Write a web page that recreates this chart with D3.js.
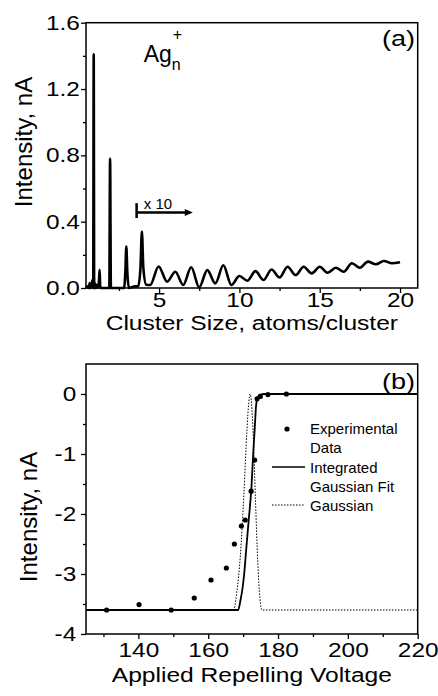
<!DOCTYPE html>
<html>
<head>
<meta charset="utf-8">
<script src="https://cdnjs.cloudflare.com/ajax/libs/d3/7.8.5/d3.min.js"></script>
<style>
  body { margin: 0; background: #fff; }
  svg { display: block; font-family: "Liberation Sans", Arial, sans-serif; }
  .axis line { stroke: #000; stroke-width: 1.3; }
  .axis text { font-size: 20px; fill: #000; }
  .frame { fill: none; stroke: #000; stroke-width: 1.5; }
  .title { font-size: 20px; fill: #000; }
  .ytitle { font-size: 24px; fill: #000; }
</style>
</head>
<body>
<svg id="chart" width="438" height="696"></svg>
<script>
// (a) Ag_n+ cluster spectrum
var clusterSize = [0.45, 0.55, 0.62, 0.68, 0.74, 0.8, 0.86, 0.9, 0.93, 0.96, 1.0, 1.05, 1.1, 1.2, 1.26, 1.3, 1.34, 1.42,
  1.9, 1.95, 2.0, 2.4, 2.82, 2.9, 2.96, 3.02, 3.12, 3.5, 3.7, 3.84, 3.93, 4.02, 4.2, 4.45, 4.97, 5.5, 6.01, 6.5,
  7.0, 7.5, 8.0, 8.5, 9.0, 9.5, 10.0, 10.5, 11.0, 11.5, 12.0, 12.5, 13.0, 13.5, 14.0, 14.5, 15.0, 15.5, 16.0,
  16.5, 17.0, 17.5, 18.0, 18.5, 19.0, 19.5, 20.0];
var clusterCurrent = [0, 0.01, 0, 0.03, 0, 0.02, 0.05, 0, 1.41, 0, 0.03, 0, 0.02, 0, 0.05, 0.11, 0, 0,
  0, 0.78, 0, 0, 0, 0.1, 0.25, 0.1, 0, 0.01, 0.01, 0.12, 0.34, 0.12, 0.02, 0.018, 0.13, 0.038, 0.098, 0.018,
  0.125, 0.004, 0.108, 0.028, 0.137, 0.018, 0.072, 0.044, 0.102, 0.048, 0.112, 0.064, 0.128, 0.078, 0.128, 0.088, 0.128, 0.092, 0.122,
  0.098, 0.149, 0.122, 0.159, 0.143, 0.163, 0.149, 0.155];

// (b) repelling voltage scan
var expVoltage = [130.9, 140.2, 149.4, 156.0, 160.8, 165.2, 167.5, 169.5, 170.6, 172.3, 173.3, 174.0, 174.9, 177.1, 182.4];
var expCurrent = [-3.6, -3.51, -3.6, -3.4, -3.1, -2.9, -2.5, -2.2, -2.1, -1.62, -1.1, -0.08, -0.04, -0.01, 0];
var fitVoltage = [125, 168.6, 169.2, 169.8, 170.3, 170.8, 171.6, 172.4, 172.9, 173.3, 173.7, 174.1, 174.8, 176, 220];
var fitCurrent = [-3.6, -3.6, -3.45, -3.25, -3.0, -2.65, -2.1, -1.54, -0.98, -0.6, -0.2, -0.07, -0.02, 0, 0];
var gaussVoltage = [125, 167.2, 168.2, 169.2, 170.2, 171.1, 171.6, 172.0, 172.4, 172.9, 173.5, 174.2, 174.8, 175.4, 220];
var gaussCurrent = [-3.6, -3.6, -3.3, -2.7, -1.7, -0.6, -0.15, 0, -0.15, -0.7, -1.7, -2.8, -3.4, -3.6, -3.6];

var ticksAx = [5, 10, 15, 20], minorAx = [2.5, 7.5, 12.5, 17.5];
var ticksAy = [0, 0.4, 0.8, 1.2, 1.6], minorAy = [0.2, 0.6, 1.0, 1.4];
var ticksBx = [140, 160, 180, 200, 220], minorBx = [130, 150, 170, 190, 210];
var ticksBy = [-4, -3, -2, -1, 0], minorBy = [-3.5, -2.5, -1.5, -0.5];

var svg = d3.select("#chart"),
    left = 86, right = 417.7,
    stretch = "scale(1.22,1)",   // the figure's lettering is wide
    titleStretch = "scale(1.23,1)";

function zip(xs, ys) {
  return xs.map(function(d, i) { return [d, ys[i]]; });
}

function noDomain(s) { s.select(".domain").remove(); }

function drawAxes(g, x, y, o) {
  var top = y.range()[1], bottom = y.range()[0];

  g.append("g")
      .attr("class", "axis")
      .attr("transform", "translate(0," + bottom + ")")
      .call(d3.axisBottom(x).tickValues(o.tx).tickSize(5).tickPadding(o.padX).tickFormat(o.fx))
      .call(noDomain)
      .selectAll("text").attr("transform", stretch);
  g.append("g")
      .attr("class", "axis")
      .attr("transform", "translate(0," + bottom + ")")
      .call(d3.axisBottom(x).tickValues(o.mx).tickSize(3).tickFormat(""))
      .call(noDomain);

  g.append("g")
      .attr("class", "axis")
      .attr("transform", "translate(" + left + ",0)")
      .call(d3.axisLeft(y).tickValues(o.ty).tickSize(5).tickPadding(o.padY).tickFormat(o.fy))
      .call(noDomain)
      .selectAll("text").attr("transform", stretch);
  g.append("g")
      .attr("class", "axis")
      .attr("transform", "translate(" + left + ",0)")
      .call(d3.axisLeft(y).tickValues(o.my).tickSize(3).tickFormat(""))
      .call(noDomain);

  g.append("rect")
      .attr("class", "frame")
      .attr("x", left)
      .attr("y", top)
      .attr("width", right - left)
      .attr("height", bottom - top);
}

function wideText(g, cls, x, y, anchor, txt) {
  return g.append("text")
      .attr("class", cls)
      .attr("transform", "translate(" + x + "," + y + ") " + titleStretch)
      .attr("text-anchor", anchor)
      .text(txt);
}

// ---------- panel (a) ----------
var xa = d3.scaleLinear().domain([0.45, 21.1]).range([left, right]),
    ya = d3.scaleLinear().domain([0, 1.6]).range([288, 22.7]);

var ga = svg.append("g");

drawAxes(ga, xa, ya, {
  tx: ticksAx, mx: minorAx, ty: ticksAy, my: minorAy,
  padX: 0, padY: 0,
  fx: d3.format("d"), fy: d3.format(".1f")
});

ga.append("path")
    .datum(zip(clusterSize, clusterCurrent))
    .attr("fill", "none")
    .attr("stroke", "#000")
    .attr("stroke-width", 2.6)
    .attr("stroke-linejoin", "round")
    .attr("d", d3.line()
      .x(function(d) { return xa(d[0]); })
      .y(function(d) { return ya(d[1]); })
      .curve(d3.curveMonotoneX));

// x 10 marker
ga.append("line")
    .attr("x1", xa(3.6)).attr("x2", xa(3.6))
    .attr("y1", ya(0.512)).attr("y2", ya(0.422))
    .attr("stroke", "#000").attr("stroke-width", 2.5);
ga.append("line")
    .attr("x1", xa(3.6)).attr("x2", xa(6.75))
    .attr("y1", ya(0.456)).attr("y2", ya(0.456))
    .attr("stroke", "#000").attr("stroke-width", 2.5);
ga.append("path")
    .attr("d", "M" + xa(7.1) + "," + ya(0.456) + "l-8,-3.5v7z")
    .attr("fill", "#000");
ga.append("text")
    .attr("x", xa(4.05))
    .attr("y", ya(0.476))
    .attr("font-size", 15)
    .text("x 10");

var ag = ga.append("text")
    .attr("x", xa(4.04))
    .attr("y", ya(1.363))
    .attr("font-size", 23);
ag.append("tspan").text("Ag");
ag.append("tspan").attr("font-size", 16).attr("dy", 8).text("n");
ag.append("tspan").attr("font-size", 16).attr("x", xa(5.85)).attr("dy", -30).text("+");

wideText(ga, "title", 415, 46, "end", "(a)").style("font-size", "22px");
wideText(ga, "title", (left + right) / 2, 330, "middle", "Cluster Size, atoms/cluster");

ga.append("text")
    .attr("class", "ytitle")
    .attr("transform", "translate(32,142) rotate(-90)")
    .attr("text-anchor", "middle")
    .text("Intensity, nA");

// ---------- panel (b) ----------
var xb = d3.scaleLinear().domain([125, 220]).range([left, right]),
    yb = d3.scaleLinear().domain([-4, 0.5]).range([634, 364]);

var gb = svg.append("g");

drawAxes(gb, xb, yb, {
  tx: ticksBx, mx: minorBx, ty: ticksBy, my: minorBy,
  padX: 4, padY: 3,
  fx: d3.format("d"), fy: function(d) { return String(d); }
});

var lineB = d3.line()
    .x(function(d) { return xb(d[0]); })
    .y(function(d) { return yb(d[1]); })
    .curve(d3.curveMonotoneX);

gb.append("path")
    .datum(zip(gaussVoltage, gaussCurrent))
    .attr("fill", "none")
    .attr("stroke", "#000")
    .attr("stroke-width", 1)
    .attr("stroke-dasharray", "1.5,1.5")
    .attr("d", lineB);

gb.append("path")
    .datum(zip(fitVoltage, fitCurrent))
    .attr("fill", "none")
    .attr("stroke", "#000")
    .attr("stroke-width", 1.8)
    .attr("d", lineB);

gb.selectAll("circle.exp")
    .data(zip(expVoltage, expCurrent))
  .enter().append("circle")
    .attr("class", "exp")
    .attr("cx", function(d) { return xb(d[0]); })
    .attr("cy", function(d) { return yb(d[1]); })
    .attr("r", 2.6)
    .attr("fill", "#000");

// legend
var leg = gb.append("g").attr("font-size", 15);
leg.append("circle").attr("cx", 287).attr("cy", 429).attr("r", 2.6).attr("fill", "#000");
leg.append("text").attr("x", 310).attr("y", 434).text("Experimental");
leg.append("text").attr("x", 310).attr("y", 453).text("Data");
leg.append("line").attr("x1", 272).attr("x2", 305).attr("y1", 467).attr("y2", 467)
    .attr("stroke", "#000").attr("stroke-width", 1.5);
leg.append("text").attr("x", 310).attr("y", 473).text("Integrated");
leg.append("text").attr("x", 310).attr("y", 492).text("Gaussian Fit");
leg.append("line").attr("x1", 272).attr("x2", 305).attr("y1", 505).attr("y2", 505)
    .attr("stroke", "#000").attr("stroke-width", 1).attr("stroke-dasharray", "1.5,1.5");
leg.append("text").attr("x", 310).attr("y", 511).text("Gaussian");

wideText(gb, "title", 415, 389, "end", "(b)").style("font-size", "22px");
wideText(gb, "title", (left + right) / 2, 682, "middle", "Applied Repelling Voltage");

gb.append("text")
    .attr("class", "ytitle")
    .attr("transform", "translate(37,517) rotate(-90)")
    .attr("text-anchor", "middle")
    .text("Intensity, nA");
</script>
</body>
</html>
